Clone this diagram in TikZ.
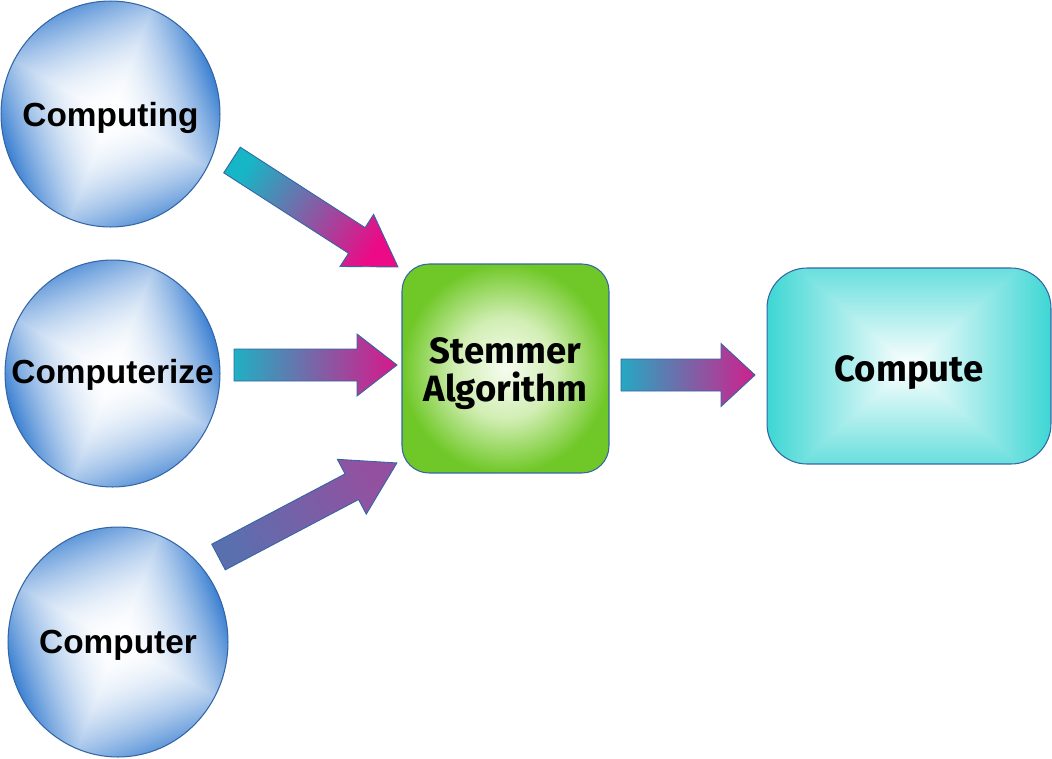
\documentclass[tikz,border=0pt]{standalone}
\usepackage{fontspec}
\setmainfont{Liberation Sans}
\newfontfamily\boxfont{Fira Sans}
\usetikzlibrary{shapes.geometric}
\definecolor{edgeblue}{HTML}{3465A4}
\definecolor{greenedge}{HTML}{70C828}
\definecolor{greenmid}{HTML}{D2EEB4}
\definecolor{greenctr}{HTML}{F6FCEF}
\definecolor{tealA}{HTML}{16B6C6}
\definecolor{magA}{HTML}{EC0A86}
\definecolor{tealB}{HTML}{1FB0C3}
\definecolor{magB}{HTML}{D8178A}
\definecolor{blueC}{HTML}{5A6FAE}
\definecolor{purpC}{HTML}{9450A0}
\definecolor{tealD}{HTML}{25A8C2}
\definecolor{magD}{HTML}{D0208C}
\pgfdeclareradialshading{greenrad}{\pgfpoint{0bp}{0bp}}{color(0bp)=(greenctr); color(12bp)=(greenmid); color(25bp)=(greenedge); color(50bp)=(greenedge)}
\pgfdeclarefunctionalshading{bluesq}{\pgfpoint{-50bp}{-50bp}}{\pgfpoint{50bp}{50bp}}{}{
  2 copy 0.342 mul exch 0.940 mul add
  3 1 roll 0.940 mul exch -0.342 mul add
  abs 0.9 mul exch abs
  2 copy lt {exch} if pop
  25 div dup 1 gt {pop 1} if
  dup mul
  dup 0.77 mul 1 exch sub exch
  dup 0.50 mul 1 exch sub exch
  0.18 mul 1 exch sub
}
\pgfdeclarefunctionalshading{cyansq}{\pgfpoint{-50bp}{-50bp}}{\pgfpoint{50bp}{50bp}}{}{
  abs 0.78 mul exch abs
  2 copy lt {exch} if pop
  25 div dup 1 gt {pop 1} if
  dup 0.76 mul 1 exch sub exch
  dup 0.16 mul 1 exch sub exch
  0.17 mul 1 exch sub
}
\tikzset{
  wordcirc/.style={ellipse, draw=edgeblue, line width=0.6pt, shade, shading=bluesq, inner sep=0pt},
  wordtext/.style={font=\fontsize{19}{22}\selectfont\bfseries, text depth=0pt, inner sep=0pt},
  boxtext/.style={font=\boxfont\fontsize{20.8}{22}\selectfont\bfseries, align=center,
    text depth=0pt, inner sep=0pt},
  stembox/.style={rectangle, rounded corners=0.54cm, draw=edgeblue, line width=0.6pt,
    shade, shading=greenrad, inner sep=0pt,
    minimum width=4.14cm, minimum height=4.18cm},
  outbox/.style={rectangle, rounded corners=0.8cm, draw=edgeblue, line width=0.6pt,
    shade, shading=cyansq, inner sep=0pt,
    minimum width=5.68cm, minimum height=3.92cm},
  arrowline/.style={draw=edgeblue, line width=0.5pt, line join=miter}
}
\newcommand\blockarrow[8]{%
  \begin{scope}[shift={(#1)}, rotate=#2]
    \pgfmathsetmacro\shadeang{#2+90}
    \path[arrowline, left color=#7, right color=#8, shading angle=\shadeang]
      (0,-#4/2) -- (#3-#6,-#4/2) -- (#3-#6,-#5/2) -- (#3,0) -- (#3-#6,#5/2)
      -- (#3-#6,#4/2) -- (0,#4/2) -- cycle;
  \end{scope}}
\begin{document}
\begin{tikzpicture}[x=0.02cm, y=0.02cm]
  \useasboundingbox (0,0) rectangle (1052,-758);
  \node[wordcirc, minimum width=4.38cm, minimum height=4.52cm,
    label={[wordtext, yshift=-0.01cm]center:Computing}] (c1) at (110.5,-114) {};
  \node[wordcirc, minimum width=4.30cm, minimum height=4.54cm,
    label={[wordtext, yshift=0.04cm]center:Computerize}] (c2) at (112.5,-373.5) {};
  \node[wordcirc, minimum width=4.40cm, minimum height=4.60cm,
    label={[wordtext]center:Computer}] (c3) at (118,-642) {};
  \node[stembox, label={[boxtext, yshift=-0.02cm]center:Stemmer\\Algorithm}] (stem) at (505.5,-368.5) {};
  \node[outbox, label={[boxtext, yshift=-0.05cm]center:Compute}] (out) at (909,-366) {};
  \coordinate (a1t) at (232,-160);
  \coordinate (a2t) at (234,-365);
  \coordinate (a3t) at (218.5,-557);
  \coordinate (a4t) at (621,-375);
  \blockarrow{a1t}{-32.8}{197.5}{30.5}{62}{49}{tealA}{magA}
  \blockarrow{a2t}{0}{163}{32}{62}{40}{tealB}{magB}
  \blockarrow{a3t}{27.8}{201.7}{29}{62}{51}{blueC}{purpC}
  \blockarrow{a4t}{0}{134}{32}{63}{34}{tealD}{magD}
\end{tikzpicture}
\end{document}
